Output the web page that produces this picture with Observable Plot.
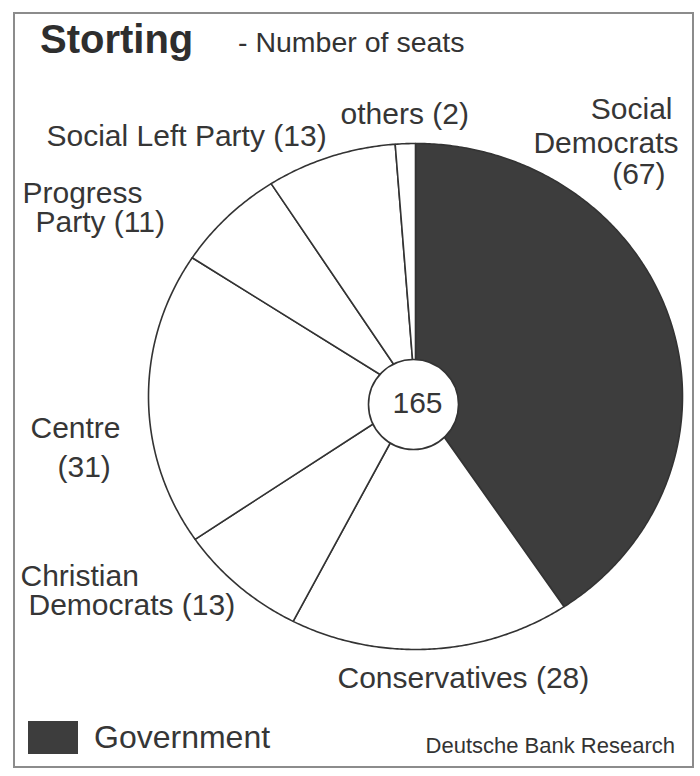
<!DOCTYPE html>
<html>
<head>
<meta charset="utf-8">
<script src="https://cdn.jsdelivr.net/npm/d3@7"></script>
<script src="https://cdn.jsdelivr.net/npm/@observablehq/plot@0.6"></script>
<style>
  html, body { margin: 0; padding: 0; background: #ffffff; }
  #page { position: relative; width: 700px; height: 776px; overflow: hidden;
          font-family: "Liberation Sans", Arial, sans-serif; color: #333333; }
  #page > svg { position: absolute; left: 0; top: 0; }
  #frame { position: absolute; left: 13px; top: 12px; width: 681px; height: 756px;
           box-sizing: border-box; border: 2px solid #8c8c8c; }
  #title { position: absolute; left: 40px; top: 19px; font-size: 40px; line-height: 40px;
           font-weight: bold; color: #2e2e2e; white-space: nowrap; }
  #subtitle { position: absolute; left: 238px; top: 28px; font-size: 28.5px; line-height: 28px;
              color: #333333; white-space: nowrap; }
  #legend { position: absolute; left: 28px; top: 719px; }
  #caption { position: absolute; right: 25px; top: 735px; font-size: 22px; line-height: 22px;
             color: #333333; white-space: nowrap; }
</style>
</head>
<body>
<div id="page">
  <div id="frame"></div>
  <div id="title">Storting</div>
  <div id="subtitle">- Number of seats</div>
  <div id="legend"></div>
  <div id="caption">Deutsche Bank Research</div>
</div>
<script>
// ---- data ----
const parties = ["Social Democrats", "Conservatives", "Christian Democrats", "Centre",
                 "Progress Party", "Social Left Party", "others"];
const seats = [67, 28, 13, 31, 11, 13, 2];
const inGovernment = [true, false, false, false, false, false, false];
const blocs = ["Government", "Opposition"];
// label text lines per party ("#" is replaced by the seat count)
const labelLines = [
  ["Social", "Democrats", "(#)"],
  ["Conservatives (#)"],
  ["Christian", "Democrats (#)"],
  ["Centre", "(#)"],
  ["Progress", "Party (#)"],
  ["Social Left Party (#)"],
  ["others (#)"]
];

// ---- layout (pixel anchors of each label line: x, baseline y, anchor) ----
const labelLayout = [
  [[672, 118, "end"], [678, 152, "end"], [665, 183, "end"]],
  [[337, 687, "start"]],
  [[20, 585, "start"], [28, 614, "start"]],
  [[30, 437, "start"], [57, 476, "start"]],
  [[22, 202, "start"], [35, 231, "start"]],
  [[46, 145, "start"]],
  [[340, 123, "start"]]
];

const font = "'Liberation Sans', Arial, sans-serif";
const xRange = [148, 682];
const yRange = [649, 143];
const xInv = d3.scaleLinear([-1, 1], xRange).invert;
const yInv = d3.scaleLinear([-1, 1], yRange).invert;

// ---- slice outlines computed from the seat counts ----
const total = d3.sum(seats);
const slicePoints = [];
let cum = 0;
parties.forEach((p, i) => {
  const a0 = cum / total * 2 * Math.PI;
  cum += seats[i];
  const a1 = cum / total * 2 * Math.PI;
  const bloc = inGovernment[i] ? blocs[0] : blocs[1];
  const n = Math.max(2, Math.ceil((a1 - a0) / (Math.PI / 360)));
  slicePoints.push({party: p, bloc, x: 0, y: 0});
  for (let k = 0; k <= n; k++) {
    const a = a0 + (a1 - a0) * k / n;
    slicePoints.push({party: p, bloc, x: Math.sin(a), y: Math.cos(a)});
  }
  slicePoints.push({party: p, bloc, x: 0, y: 0});
});

// ---- label rows ----
const labelRows = [];
parties.forEach((p, i) => {
  labelLines[i].forEach((line, j) => {
    const [px, py, anchor] = labelLayout[i][j];
    labelRows.push({text: line.replace("#", seats[i]), x: xInv(px), y: yInv(py), anchor});
  });
});

const labelMark = (anchor) => Plot.text(labelRows.filter(d => d.anchor === anchor), {
  x: "x", y: "y", text: "text", textAnchor: anchor, lineAnchor: "bottom",
  fontSize: 30, fill: "#363636"
});

const chart = Plot.plot({
  width: 700, height: 776, margin: 0,
  x: {domain: [-1, 1], range: xRange, axis: null},
  y: {domain: [-1, 1], range: yRange, axis: null},
  color: {domain: blocs, range: ["#3d3d3d", "#ffffff"]},
  style: {fontFamily: font, background: "transparent", overflow: "visible"},
  marks: [
    Plot.line(slicePoints, {x: "x", y: "y", z: "party", fill: "bloc",
      stroke: "#333333", strokeWidth: 1.6, strokeLinejoin: "round"}),
    Plot.dot([{x: 0, y: 0}], {x: "x", y: "y", r: 45, dx: -2, dy: 8,
      fill: "#ffffff", stroke: "#333333", strokeWidth: 1.6}),
    Plot.text([{x: 0, y: 0, t: String(total)}], {x: "x", y: "y", text: "t",
      dx: 2, dy: 16, lineAnchor: "bottom", fontSize: 30, fill: "#363636"}),
    labelMark("start"),
    labelMark("end"),
    labelMark("middle")
  ]
});
document.getElementById("page").prepend(chart);

const legend = Plot.legend({
  color: {domain: [blocs[0]], range: ["#3d3d3d"]},
  legend: "swatches",
  swatchWidth: 50, swatchHeight: 33,
  style: {fontSize: "32px", fontFamily: font, color: "#363636"}
});
document.getElementById("legend").appendChild(legend);
</script>
</body>
</html>
